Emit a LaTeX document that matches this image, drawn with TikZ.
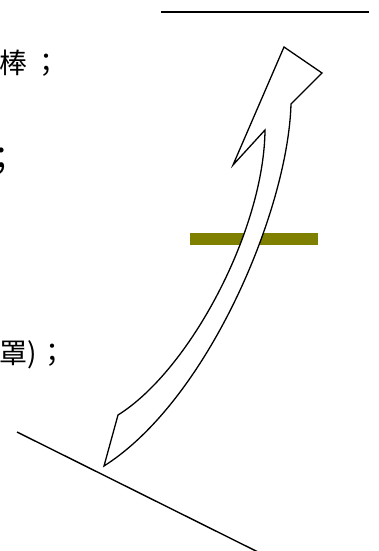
\documentclass[tikz,border=0pt]{standalone}
\usepackage{fontspec}
\newfontfamily\cjk{Noto Sans CJK TC}
\definecolor{molive}{RGB}{128,128,0}

\begin{document}
\begin{tikzpicture}[x=1pt, y=-1pt,
    line/.style={line width=1.4pt},
    outline/.style={line width=1.3pt, line join=miter, fill=white},
    bar/.style={fill=molive, draw=none},
    note/.style={inner sep=0pt, font=\cjk\fontsize{28}{30}\selectfont},
]
\useasboundingbox (0,0) rectangle (378,551);

% cut off text on the left
\node[note, anchor=west] (rod) at (-1,63.5) {棒\hspace{5pt}；};
\node[note, anchor=center, font=\cjk\fontsize{34}{36}\selectfont] (semi) at (1,161) {；};
\node[note, anchor=west] (cover) at (-1,355) {罩)\hspace{2pt}；};

% top line
\coordinate (top_l) at (161,12);
\coordinate (top_r) at (369,12);
\draw[line] (top_l) -- (top_r);

% bottom line
\coordinate (bot_l) at (17,432);
\coordinate (bot_r) at (258,552);
\draw[line] (bot_l) -- (bot_r);

% olive bar
\coordinate (bar_a) at (190,233);
\coordinate (bar_b) at (318,245);
\fill[bar] (bar_a) rectangle (bar_b);

% curved arrow
\coordinate (tip) at (284,47);
\coordinate (barb_r) at (322,73);
\coordinate (neck_r) at (291,104);
\coordinate (tail) at (104,466);
\coordinate (tail_c) at (118,415);
\coordinate (neck_l) at (265,130);
\coordinate (barb_l) at (233,165);

\draw[outline] (tip) -- (barb_r) -- (neck_r)
    .. controls (288,210) and (208,400) .. (tail) -- (tail_c)
    .. controls (190,370) and (264,230) .. (neck_l) -- (barb_l) -- cycle;

\end{tikzpicture}
\end{document}
